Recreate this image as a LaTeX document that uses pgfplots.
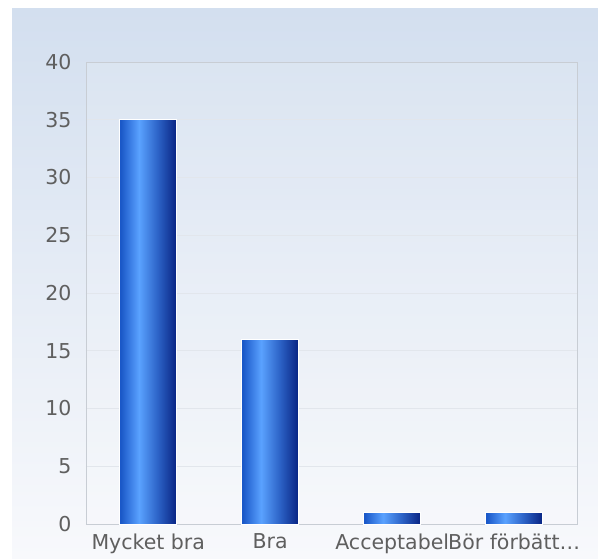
\documentclass[border=0pt]{standalone}
\usepackage{pgfplots}
\pgfplotsset{compat=1.18}
\usepackage{fontspec}
\setmainfont{DejaVu Sans}
\definecolor{bgtop}{RGB}{211,223,239}
\definecolor{bgbot}{RGB}{248,249,252}
\definecolor{gridc}{RGB}{226,230,236}
\definecolor{axisc}{RGB}{200,205,212}
\definecolor{txt}{RGB}{95,95,95}
\definecolor{bA}{RGB}{26,88,200}
\definecolor{bB}{RGB}{90,162,255}
\definecolor{bC}{RGB}{45,100,200}
\definecolor{bD}{RGB}{8,35,130}
\pgfdeclarehorizontalshading{barshade}{100bp}{color(0bp)=(bA); color(26bp)=(bA); color(42bp)=(bB); color(58bp)=(bC); color(75bp)=(bD); color(100bp)=(bD)}
\begin{document}
\begin{tikzpicture}[x=1pt,y=1pt]
\useasboundingbox (0,0) rectangle (598,558);
\shade[top color=bgtop, bottom color=bgbot] (12,0) rectangle (598,549);
\begin{axis}[
  at={(86pt,34pt)}, anchor=south west,
  scale only axis, width=491pt, height=462pt,
  xmin=-0.51, xmax=3.515, ymin=0, ymax=40,
  ytick={0,5,...,40},
  xtick={0,1,2,3},
  xticklabels={Mycket bra,Bra,Acceptabel,Bör förbätt…},
  major tick length=0pt,
  ymajorgrids,
  grid style={draw=gridc, line width=0.8pt},
  axis line style={draw=axisc, line width=0.8pt},
  axis background/.style={fill=white, fill opacity=0.12},
  tick label style={font=\fontsize{20.5}{24}\selectfont, text=txt},
  /pgf/number format/assume math mode=true,
  yticklabel style={xshift=-11pt},
  xticklabel style={yshift=-6pt},
  ybar, bar width=57pt, bar shift=0pt,
  barsty/.style={draw=white, line width=1pt, shading=barshade, shading angle=0},
]
\addplot[barsty] coordinates {(0,35)};
\addplot[barsty] coordinates {(1,16)};
\addplot[barsty] coordinates {(2,1)};
\addplot[barsty] coordinates {(3,1)};
\end{axis}
\end{tikzpicture}
\end{document}
